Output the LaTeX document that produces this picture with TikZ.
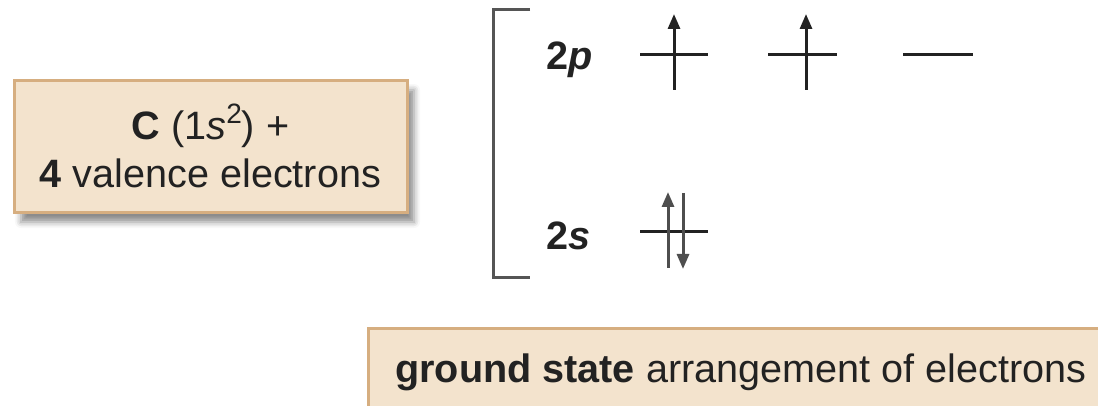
\documentclass[tikz,border=0pt]{standalone}
\usepackage{fontspec}
\setmainfont{Liberation Sans}
\usetikzlibrary{arrows.meta,shadows.blur}
\definecolor{boxfill}{HTML}{F3E3CD}
\definecolor{boxedge}{HTML}{D6AE80}
\definecolor{ink}{HTML}{222222}
\definecolor{brk}{HTML}{555555}
\newcommand{\supr}[1]{\raisebox{0.42em}{\fontsize{28}{28}\selectfont #1}}
\begin{document}
\begin{tikzpicture}[x=1pt,y=-1pt,
  tanbox/.style={fill=boxfill,draw=boxedge,line width=3pt},
  bigtext/.style={font=\fontsize{39.6}{48}\selectfont,text=ink},
  level/.style={draw=ink,line width=3pt},
  spin/.style={draw=ink,line width=3pt,-{Triangle[length=15pt,width=12pt]}},
  bracket/.style={draw=brk,line width=3pt}]
\useasboundingbox (0,0) rectangle (1098,406);
% left box
\node[tanbox,minimum width=393pt,minimum height=132pt,inner sep=0pt,
  blur shadow={shadow xshift=7pt,shadow yshift=-9pt,shadow blur radius=6pt,shadow opacity=45}]
  (cbox) at (210.5,147) {};
\node[bigtext,align=center,anchor=base] (cline1) at (210.5,140) {\textbf{C} (1\textit{s}\supr{2}) +};
\node[bigtext,anchor=base] (cline2) at (210.5,188) {\textbf{4} valence electrons};
% bracket
\coordinate (bt) at (530,10);
\coordinate (bb) at (530,277);
\draw[bracket] (bt) -- (493,10) -- (493,277) -- (bb);
% labels
\node[bigtext,anchor=base west,inner sep=0pt] (l2p) at (546,70) {\textbf{2\textit{p}}};
\node[bigtext,anchor=base west,inner sep=0pt] (l2s) at (546,250) {\textbf{2\textit{s}}};
% 2p levels
\coordinate (p1a) at (640,55); \coordinate (p1b) at (708,55);
\coordinate (p2a) at (768,55); \coordinate (p2b) at (837,55);
\coordinate (p3a) at (903,55); \coordinate (p3b) at (973,55);
\draw[level] (p1a) -- (p1b);
\draw[level] (p2a) -- (p2b);
\draw[level] (p3a) -- (p3b);
\coordinate (e1s) at (674,90); \coordinate (e1e) at (674,14);
\coordinate (e2s) at (806,90); \coordinate (e2e) at (806,14);
\draw[spin] (e1s) -- (e1e);
\draw[spin] (e2s) -- (e2e);
% 2s level
\coordinate (s1a) at (640,232); \coordinate (s1b) at (708,232);
\draw[level] (s1a) -- (s1b);
\coordinate (u1s) at (668,268); \coordinate (u1e) at (668,192);
\coordinate (d1s) at (683,193); \coordinate (d1e) at (683,269);
\draw[spin,draw=ink!80] (u1s) -- (u1e);
\draw[spin,draw=ink!80] (d1s) -- (d1e);
% bottom box
\fill[boxfill] (368,328) rectangle (1098,406);
\draw[draw=boxedge,line width=3pt] (368,406) -- (368,328) -- (1098,328);
\node[bigtext,anchor=base west,inner sep=0pt] (gs) at (395,382) {\textbf{ground state} arrangement of electrons};
\end{tikzpicture}
\end{document}
